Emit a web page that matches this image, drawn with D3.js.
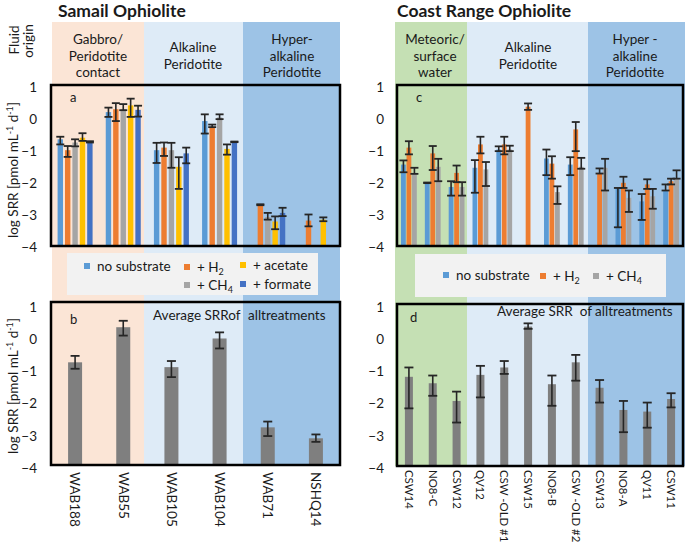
<!DOCTYPE html>
<html><head><meta charset="utf-8">
<script src="https://cdn.jsdelivr.net/npm/d3@7"></script>
<style>
body{margin:0;background:#fff}
text{font-family:Lato,'Open Sans',sans-serif;fill:#1a1a1a}
</style>
</head><body>
<svg id="chart" width="685" height="546"></svg>
<script>
// ---------- DATA ----------
const samailSites = ["WAB188","WAB55","WAB105","WAB104","WAB71","NSHQ14"];
const coastSites = ["CSW14","NO8-C","CSW12","QV12","CSW -OLD #1","CSW15","NO8-B","CSW -OLD #2","CSW13","NO8-A","QV11","CSW11"];
const yTicks = [1,0,-1,-2,-3,-4];
const samailOrigins = [["Gabbro/","Peridotite","contact"],["Alkaline","Peridotite"],["Hyper-","alkaline","Peridotite"]];
const coastOrigins = [["Meteoric/","surface","water"],["Alkaline","Peridotite"],["Hyper -","alkaline","Peridotite"]];

// panel a (log SRR), errors as [up, down]
const aNoSub      = [-0.65, 0.20, -0.99, -0.08, null, null];
const aNoSubErr   = [[0.08,0.16],[0.14,0.15],[0.23,0.40],[0.21,0.39],null,null];
const aH2         = [-0.99, 0.29, -0.91, -0.26, -2.69, -3.19];
const aH2Err      = [[0.13,0.21],[0.19,0.37],[0.16,0.26],[0.07,0.01],[0.01,0.02],[0.19,0.18]];
const aCH4        = [-0.75, 0.29, -0.99, 0.03, -3.08, null];
const aCH4Err     = [[0.10,0.12],[0.16,0.03],[0.23,0.55],[0.10,0.05],[0.13,0.08],null];
const aAcetate    = [-0.60, 0.41, -1.51, -0.95, -3.22, -3.16];
const aAcetateErr = [[0.14,0.10],[0.21,0.36],[0.30,0.69],[0.14,0.18],[0.16,0.24],[0.07,0.05]];
const aFormate    = [-0.72, 0.27, -1.09, -0.73, -2.95, null];
const aFormateErr = [[0.01,0.03],[0.13,0.21],[0.18,0.31],[0.01,0.01],[0.16,0.10],null];

// panel b: average of all treatments
const bAvg    = [-0.78, 0.31, -0.93, -0.04, -2.80, -3.14];
const bAvgErr = [[0.20,0.20],[0.20,0.26],[0.19,0.31],[0.19,0.31],[0.18,0.27],[0.12,0.11]];

// panel c
const cNoSub    = [-1.44,-2.01,-2.14,-1.54,-0.97,null,-1.25,-1.44,null,-2.17,-2.59,-2.25];
const cNoSubErr = [[0.13,0.24],[0.01,0.01],[0.18,0.27],[0.24,0.78],[0.10,0.05],null,[0.28,0.52],[0.23,0.33],null,[0.00,1.23],[0.23,0.58],[0.19,0.00]];
const cH2       = [-0.91,-1.09,-1.70,-0.81,-0.81,0.37,-1.41,-0.34,-1.70,-2.01,-2.06,-1.96];
const cH2Err    = [[0.20,0.21],[0.23,0.52],[0.23,0.29],[0.24,0.28],[0.24,0.31],[0.10,0.10],[0.23,0.47],[0.23,0.68],[0.14,0.02],[0.19,0.16],[0.16,0.14],[0.08,0.10]];
const cCH4      = [-1.70,-1.51,-2.14,-1.59,-0.97,null,-2.30,-1.51,-1.54,-2.48,-2.43,-1.88];
const cCH4Err   = [[0.16,0.03],[0.25,0.45],[0.15,0.27],[0.23,0.52],[0.12,0.05],null,[0.18,0.37],[0.28,0.06],[0.28,0.71],[0.23,0.44],[0.23,0.39],[0.26,0.00]];

// panel d
const dAvg    = [-1.23,-1.43,-1.98,-1.17,-0.94,0.33,-1.46,-0.78,-1.57,-2.26,-2.31,-1.92];
const dAvgErr = [[0.29,0.98],[0.24,0.39],[0.29,0.67],[0.28,0.70],[0.20,0.20],[0.10,0.07],[0.27,0.67],[0.23,0.57],[0.24,0.46],[0.28,0.69],[0.28,0.50],[0.18,0.26]];

// ---------- STYLE ----------
const COL = {nosub:"#5b9bd5", h2:"#ed7d31", ch4:"#a5a5a5", acetate:"#ffc000", formate:"#4472c4", avg:"#7f7f7f",
  peach:"#fbe5d6", lblue:"#deebf7", blue:"#9dc3e6", green:"#c5e0b4", err:"#262626"};

const svg = d3.select("#chart");

// ---------- BACKGROUND BANDS ----------
function rect(x0,x1,y0,y1,fill){svg.append("rect").attr("x",x0).attr("y",y0).attr("width",x1-x0).attr("height",y1-y0).attr("fill",fill);}
rect(52,144,22,465,COL.peach); rect(144,243,22,465,COL.lblue); rect(243,340,22,465,COL.blue);
rect(395,467,22,466,COL.green); rect(467,588,22,466,COL.lblue); rect(588,685,22,466,COL.blue);

// headers
function multiline(x,yFirst,lines,size,step){
  lines.forEach((l,i)=>svg.append("text").attr("x",x).attr("y",yFirst+i*step).attr("text-anchor","middle")
    .attr("font-size",size).text(l));
}
multiline(98,44,samailOrigins[0],13.5,16.5);
multiline(193,52,samailOrigins[1],13.5,16.5);
multiline(292,44,samailOrigins[2],13.5,16.5);
multiline(435,44,coastOrigins[0],13.5,16.5);
multiline(528,52,coastOrigins[1],13.5,16.5);
multiline(635,44,coastOrigins[2],13.5,16.5);

svg.append("text").attr("x",58).attr("y",17).attr("font-size",17.5).attr("font-weight","bold").text("Samail Ophiolite");
svg.append("text").attr("x",397).attr("y",17).attr("font-size",17.5).attr("font-weight","bold").text("Coast Range Ophiolite");

svg.append("text").attr("transform","translate(14,40) rotate(-90)").attr("text-anchor","middle").attr("dy","0.35em").attr("font-size",13.5).text("Fluid");
svg.append("text").attr("transform","translate(28,41) rotate(-90)").attr("text-anchor","middle").attr("dy","0.35em").attr("font-size",13.5).text("origin");

// ---------- SCALES ----------
const xS = d3.scaleBand().domain(samailSites).range([51,340]);
const xC = d3.scaleBand().domain(coastSites).range([397,683]);
const yTop = d3.scaleLinear().domain([-4,1]).range([246.5,86.5]);
const yBot = d3.scaleLinear().domain([-4,1]).range([466,305]);

function errBar(g,cx,v,e,scale,cap){
  if(!e) return;
  const y1=scale(v+e[0]), y2=scale(v-e[1]);
  g.append("line").attr("x1",cx).attr("x2",cx).attr("y1",y1).attr("y2",y2).attr("stroke",COL.err).attr("stroke-width",1.6);
  [y1,y2].forEach(yy=>g.append("line").attr("x1",cx-cap/2).attr("x2",cx+cap/2).attr("y1",yy).attr("y2",yy).attr("stroke",COL.err).attr("stroke-width",1.8));
}

function grouped(xs,ys,sites,series,slot,bw,cap){
  const g=svg.append("g");
  const n=series.length;
  const eg=svg.append("g");
  series.forEach((s,i)=>{
    sites.forEach((site,j)=>{
      const v=s.vals[j]; if(v===null) return;
      const cx=xs(site)+xs.bandwidth()/2+(i-(n-1)/2)*slot;
      g.append("rect").attr("x",cx-bw/2).attr("y",ys(v)).attr("width",bw).attr("height",ys(-4)-ys(v)).attr("fill",s.color);
      errBar(eg,cx,v,s.err[j],ys,cap);
    });
  });
}
function single(xs,ys,sites,vals,errs,bw,cap){
  const g=svg.append("g"), eg=svg.append("g");
  sites.forEach((site,j)=>{
    const v=vals[j]; const cx=xs(site)+xs.bandwidth()/2;
    g.append("rect").attr("x",cx-bw/2).attr("y",ys(v)).attr("width",bw).attr("height",ys(-4)-ys(v)).attr("fill",COL.avg);
    errBar(eg,cx,v,errs[j],ys,cap);
  });
}

grouped(xS,yTop,samailSites,[
  {vals:aNoSub,err:aNoSubErr,color:COL.nosub},
  {vals:aH2,err:aH2Err,color:COL.h2},
  {vals:aCH4,err:aCH4Err,color:COL.ch4},
  {vals:aAcetate,err:aAcetateErr,color:COL.acetate},
  {vals:aFormate,err:aFormateErr,color:COL.formate}],7.4,5.4,8);
grouped(xC,yTop,coastSites,[
  {vals:cNoSub,err:cNoSubErr,color:COL.nosub},
  {vals:cH2,err:cH2Err,color:COL.h2},
  {vals:cCH4,err:cCH4Err,color:COL.ch4}],5.5,4.8,8);
single(xS,yBot,samailSites,bAvg,bAvgErr,14,9);
single(xC,yBot,coastSites,dAvg,dAvgErr,8,9);

// ---------- AXES ----------
function yAxis(scale,xRight,dyShift){
  const g=svg.append("g").attr("transform",`translate(${xRight},${dyShift})`);
  g.call(d3.axisLeft(scale).tickValues(yTicks).tickSize(0).tickPadding(0).tickFormat(d3.format("d")));
  g.select(".domain").remove();
  g.selectAll("text").attr("font-size",13.5).attr("font-family","Lato,'Open Sans',sans-serif").attr("fill","#1a1a1a");
}
yAxis(yTop,37,1); yAxis(yBot,37,2); yAxis(yTop,384,1); yAxis(yBot,384,2);

function xAxis(xs,y,size,pad){
  const g=svg.append("g").attr("transform",`translate(0,${y})`);
  g.call(d3.axisBottom(xs).tickSize(0).tickPadding(0));
  g.select(".domain").remove();
  g.selectAll("text").attr("font-size",size).attr("font-family","Lato,'Open Sans',sans-serif").attr("fill","#1a1a1a")
    .attr("transform","rotate(90)").attr("text-anchor","start").attr("x",pad).attr("dy","0.35em").attr("y",0);
}
xAxis(xS,468,13.5,4); xAxis(xC,467,11.4,3);

// y titles
function yTitle(cx,cy){
  const t=svg.append("text").attr("transform",`translate(${cx},${cy}) rotate(-90)`).attr("text-anchor","middle").attr("font-size",13.5);
  t.append("tspan").text("log SRR [pmol  mL");
  t.append("tspan").attr("font-size",9).attr("dy",-5).text("-1");
  t.append("tspan").attr("dy",5).text(" d");
  t.append("tspan").attr("font-size",9).attr("dy",-5).text("-1");
  t.append("tspan").attr("dy",5).text("]");
}
yTitle(18,170); yTitle(18,386);

// panel boxes
function box(x0,x1,y0,y1){svg.append("rect").attr("x",x0).attr("y",y0).attr("width",x1-x0).attr("height",y1-y0).attr("fill","none").attr("stroke","#000").attr("stroke-width",2.5);}
box(51,340,85,246); box(51,340,302,465); box(397,683,85,246); box(397,683,304,466);

// panel letters & notes
svg.append("text").attr("x",70).attr("y",102).attr("font-size",13).text("a");
svg.append("text").attr("x",70).attr("y",324).attr("font-size",13).text("b");
svg.append("text").attr("x",416).attr("y",102).attr("font-size",13).text("c");
svg.append("text").attr("x",410).attr("y",322).attr("font-size",13).text("d");
svg.append("text").attr("x",153).attr("y",320).attr("font-size",13.5).text("Average SRRof");
svg.append("text").attr("x",248).attr("y",320).attr("font-size",13.5).text("alltreatments");
svg.append("text").attr("x",497).attr("y",316).attr("font-size",13.5).attr("xml:space","preserve").style("white-space","pre").text("Average SRR  of alltreatments");

// legends
function legendItem(x,y,color,label,sub){
  svg.append("rect").attr("x",x-3).attr("y",y-3).attr("width",6).attr("height",6).attr("fill",color);
  const t=svg.append("text").attr("x",x+10).attr("y",y).attr("dy","0.35em").attr("font-size",13.5).text(label);
  if(sub){t.append("tspan").attr("font-size",9).attr("dy",3).text(sub);}
}
svg.append("rect").attr("x",67).attr("y",253).attr("width",251).attr("height",42).attr("fill","#f2f2f2");
legendItem(87,266,COL.nosub,"no substrate");
legendItem(187,267,COL.h2,"+ H","2");
legendItem(243,265,COL.acetate,"+ acetate");
legendItem(187,285,COL.ch4,"+ CH","4");
legendItem(243,284,COL.formate,"+ formate");

svg.append("rect").attr("x",415).attr("y",254).attr("width",251).attr("height",43).attr("fill","#f2f2f2");
legendItem(446,275,COL.nosub,"no substrate");
legendItem(543,276,COL.h2,"+ H","2");
legendItem(596,276,COL.ch4,"+ CH","4");
</script>
</body></html>
